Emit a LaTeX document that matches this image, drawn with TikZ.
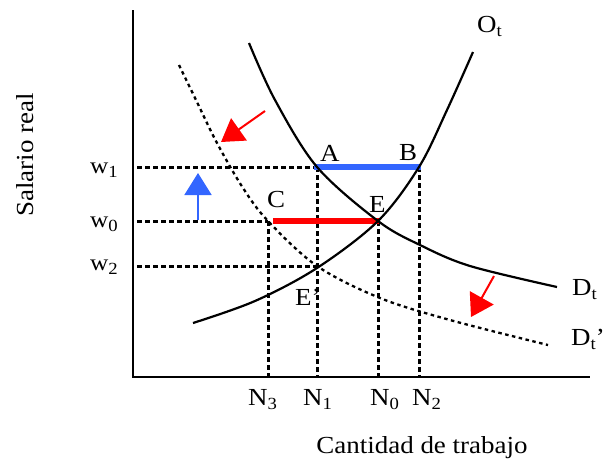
\documentclass[tikz,border=0pt]{standalone}
\usepackage{fontspec}
\setmainfont{Liberation Serif}[FakeStretch=1.1]
\usetikzlibrary{arrows.meta}
\definecolor{myred}{RGB}{255,0,0}
\definecolor{myblue}{RGB}{51,102,255}
\newcommand{\sbs}[1]{\raisebox{-4pt}{\fontsize{17}{17}\selectfont #1}}
\begin{document}
\begin{tikzpicture}[x=1pt,y=-1pt,
  axisline/.style={line width=2pt},
  curve/.style={line width=2.2pt},
  guide/.style={line width=3pt, dash pattern=on 5pt off 3pt},
  shifted/.style={line width=2.3pt, dash pattern=on 3.5pt off 3.5pt},
  bar/.style={line width=5.5pt},
  shiftarrow/.style={line width=2pt, -{Triangle[length=22pt,width=27pt]}},
  lbl/.style={inner sep=0pt, anchor=base west, font=\fontsize{24.5}{29}\selectfont},
  wlbl/.style={inner sep=0pt, anchor=base west, font=\fontsize{23}{28}\selectfont},
  axlbl/.style={inner sep=0pt, anchor=base, font=\fontsize{24.5}{29}\selectfont}]

\useasboundingbox (0,0) rectangle (605,464);

% key points
\coordinate (O) at (133,377);
\coordinate (ytop) at (133,10);
\coordinate (xend) at (590,377);
\coordinate (A) at (317,167);
\coordinate (B) at (419,167);
\coordinate (C) at (268,221);
\coordinate (E) at (378,221);
\coordinate (Ep) at (317,266);
\coordinate (w1) at (137,167);
\coordinate (w0) at (137,221);
\coordinate (w2) at (137,266);

% axes
\draw[axisline] (ytop) -- (O) -- (xend);

% guide lines
\draw[guide] (w1) -- (B);
\draw[guide] (w0) -- (C);
\draw[guide] (w2) -- (Ep);
\draw[guide] (C) -- (C |- O);
\draw[guide] (A) -- (A |- O);
\draw[guide] (E) -- (E |- O);
\draw[guide] (B) -- (B |- O);

% bars
\draw[bar, myblue, shorten <=-3pt, shorten >=-2pt] (A) -- (B);
\draw[bar, myred, shorten <=5pt, shorten >=-1pt] (C) -- (E);

% supply
\draw[curve] plot[smooth, tension=0.55] coordinates
  {(193,323) (255,301) (317,268) (378,221) (419,167) (447,110) (473,52)};
% demand
\draw[curve] plot[smooth, tension=0.55] coordinates
  {(249,43) (275,100) (317,167) (378,221) (420,245) (470,266) (557,287)};
% shifted demand
\draw[shifted] plot[smooth, tension=0.55] coordinates
  {(179,65) (196,100) (217,143) (243,188) (268,221) (317,266) (380,298) (450,320) (548,345)};

% shift arrows
\coordinate (r1s) at (265,111); \coordinate (r1e) at (221,142);
\coordinate (b1s) at (198,220); \coordinate (b1e) at (198,173);
\coordinate (r2s) at (494,276); \coordinate (r2e) at (471,317);
\draw[shiftarrow, myred] (r1s) -- (r1e);
\draw[shiftarrow, myblue] (b1s) -- (b1e);
\draw[shiftarrow, myred] (r2s) -- (r2e);

% point labels
\node[lbl] (lA) at (320,161) {A};
\node[lbl] (lB) at (399,160) {B};
\node[lbl] (lC) at (267,207) {C};
\node[lbl] (lE) at (369,212) {E};
\node[lbl] (lEp) at (295,305) {E’};
\node[lbl] (lO) at (477,32) {O\sbs{t}};
\node[lbl] (lD) at (572,295) {D\sbs{t}};
\node[lbl] (lDp) at (571,345) {D\sbs{t}’};

% wage labels
\node[wlbl] (lw1) at (90,173) {w\sbs{1}};
\node[wlbl] (lw0) at (90,227) {w\sbs{0}};
\node[wlbl] (lw2) at (90,270) {w\sbs{2}};

% employment labels
\node[lbl] (lN3) at (248,405) {N\sbs{3}};
\node[lbl] (lN1) at (303,405) {N\sbs{1}};
\node[lbl] (lN0) at (370,405) {N\sbs{0}};
\node[lbl] (lN2) at (412,405) {N\sbs{2}};

% axis titles
\node[axlbl, rotate=90] (ylab) at (33,155) {Salario real};
\node[axlbl] (xlab) at (422,453) {Cantidad de trabajo};
\end{tikzpicture}
\end{document}
